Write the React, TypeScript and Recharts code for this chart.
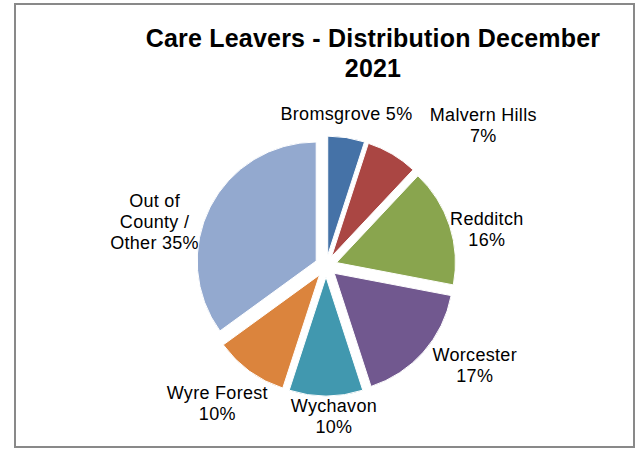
import React from "react";
import { PieChart, Pie, Cell, Sector } from "recharts";

// ---- data ----
const categories = [
  "Bromsgrove",
  "Malvern Hills",
  "Redditch",
  "Worcester",
  "Wychavon",
  "Wyre Forest",
  "Out of County / Other",
];
const shares = [5, 7, 16, 17, 10, 10, 35];
const colors = ["#4572A7", "#AA4643", "#89A54E", "#71588F", "#4198AF", "#DB843D", "#93A9CF"];

// label text wrapping as in the reference
const labelLines = [
  ["Bromsgrove"],
  ["Malvern Hills"],
  ["Redditch"],
  ["Worcester"],
  ["Wychavon"],
  ["Wyre Forest"],
  ["Out of", "County /", "Other"],
];
const pctOnOwnLine = [false, true, true, true, true, true, false];

// label layout: clockwise angular shift from slice mid-angle (deg) and distance from centre (px)
const labelAngleShift = [-1.3, 17.6, 5.1, -7.6, -3, 2.4, -12.6];
const labelDistance = [153, 211, 165, 179, 151, 175, 177];

const data = categories.map((name, i) => ({ name, value: shares[i] }));

const RAD = Math.PI / 180;
const EXPLODE = 11;
const FONT = "'Liberation Sans', Arial, sans-serif";

const ExplodedSector = (props: any) => {
  const { cx, cy, midAngle } = props;
  const dx = EXPLODE * Math.cos(midAngle * RAD);
  const dy = -EXPLODE * Math.sin(midAngle * RAD);
  return <Sector {...props} cx={cx + dx} cy={cy + dy} />;
};

const renderLabel = (p: any) => {
  const { cx, cy, midAngle, index, percent } = p;
  const a = (midAngle - labelAngleShift[index]) * RAD;
  const r = labelDistance[index];
  const x = cx + r * Math.cos(a);
  const y = cy - r * Math.sin(a);
  const pct = `${Math.round(percent * 100)}%`;
  const lines = [...labelLines[index]];
  if (pctOnOwnLine[index]) lines.push(pct);
  else lines[lines.length - 1] = lines[lines.length - 1] + " " + pct;
  const lh = 21;
  const top = y - ((lines.length - 1) * lh) / 2;
  return (
    <text
      key={`lbl-${index}`}
      x={x}
      y={top}
      textAnchor="middle"
      dominantBaseline="central"
      fontFamily={FONT}
      fontSize={18}
      letterSpacing={0.3}
      fill="#000"
    >
      {lines.map((l, k) => (
        <tspan key={k} x={x} y={top + k * lh} dominantBaseline="central">
          {l}
        </tspan>
      ))}
    </text>
  );
};

export default function App() {
  return (
    <div style={{ position: "absolute", left: 0, top: 0, width: 636, height: 449, background: "#fff" }}>
      <div
        style={{
          position: "absolute",
          left: 14,
          top: 3,
          width: 621,
          height: 445,
          boxSizing: "border-box",
          border: "2px solid #898989",
        }}
      />
      <div
        style={{
          position: "absolute",
          left: 73,
          top: 23,
          width: 600,
          textAlign: "center",
          fontFamily: FONT,
          fontWeight: "bold",
          fontSize: 25,
          lineHeight: "30px",
          letterSpacing: 0.2,
          color: "#000",
        }}
      >
        Care Leavers - Distribution December
        <br />
        2021
      </div>
      <div style={{ position: "absolute", left: 0, top: 0 }}>
        <PieChart width={636} height={449} margin={{ top: 0, right: 0, bottom: 0, left: 0 }}>
          <Pie
            data={data}
            dataKey="value"
            nameKey="name"
            cx={326}
            cy={266}
            outerRadius={119}
            startAngle={90}
            endAngle={-270}
            stroke="#fff"
            strokeWidth={1}
            label={renderLabel}
            labelLine={false}
            isAnimationActive={false}
            shape={ExplodedSector}
            activeShape={ExplodedSector}
            inactiveShape={ExplodedSector}
          >
            {data.map((d, i) => (
              <Cell key={d.name} fill={colors[i]} />
            ))}
          </Pie>
        </PieChart>
      </div>
    </div>
  );
}
